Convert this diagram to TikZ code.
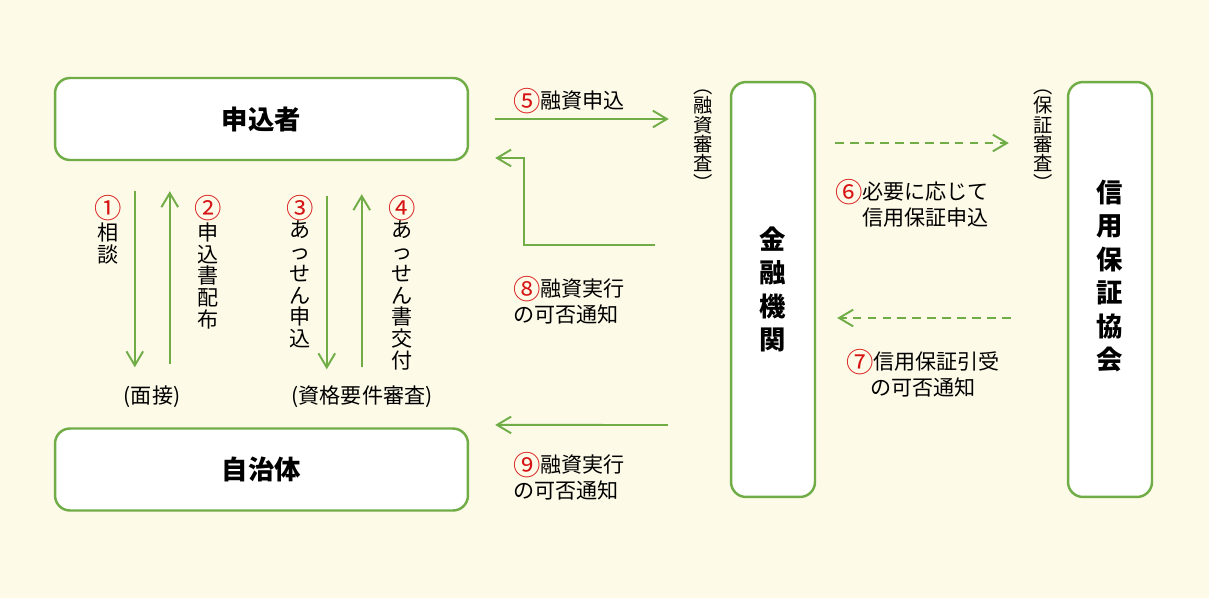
\documentclass[tikz,border=0pt]{standalone}
\usepackage{fontspec}
\setmainfont{Noto Sans CJK JP}
\usepackage{xcolor}
\usepackage{graphicx}
\usepackage{tikz}
\usetikzlibrary{arrows.meta,positioning}

\definecolor{bgcream}{RGB}{253,250,232}
\definecolor{flowgreen}{RGB}{112,173,71}
\definecolor{numred}{RGB}{215,20,20}
\newcommand{\cnum}[1]{\textcolor{numred}{\raisebox{-0.12em}{\scalebox{1.3}{#1}}}}

\begin{document}
\begin{tikzpicture}[
    x=0.02cm, y=-0.02cm,
    box/.style={rectangle, draw=flowgreen, line width=1.4pt, fill=white, rounded corners=0.3cm, minimum width=8.26cm, minimum height=1.64cm, font=\fontsize{15}{19}\selectfont\bfseries},
    vbox/.style={box, minimum width=1.68cm, minimum height=8.3cm, align=center},
    vname/.style={align=center, inner sep=0pt, font=\fontsize{15}{19}\selectfont\bfseries},
    arrow/.style={-{Straight Barb[length=8pt,width=9.5pt]}, draw=flowgreen, line width=1.1pt},
    dasharrow/.style={arrow, dash pattern=on 5pt off 3.5pt},
    lbl/.style={inner sep=0pt, font=\fontsize{12}{14.7}\selectfont},
    vlbl/.style={lbl, align=center, anchor=north, font=\fontsize{12}{12.4}\selectfont},
    plbl/.style={lbl, align=center, font=\fontsize{11}{11}\selectfont}
]
    \fill[bgcream] (0,0) rectangle (1209,598);

    % boxes
    \node[box] (applicant) at (261.5,119) {申込者};
    \node[box] (municipality) at (261.5,469.5) {自治体};
    \node[vbox] (bank) at (773,289.5) {金\\融\\機\\関};
    \node[vbox] (guarantee) at (1110,289.5) {};
    \node[vname] (guaranteename) at (1110,276) {信\\用\\保\\証\\協\\会};

    % applicant <-> municipality
    \draw[arrow, shorten <=0.6cm, shorten >=1.2cm] ([xshift=1.62cm]applicant.south west) -- ([xshift=1.62cm]municipality.north west);
    \draw[arrow, shorten <=1.26cm, shorten >=0.6cm] ([xshift=2.32cm]municipality.north west) -- ([xshift=2.32cm]applicant.south west);
    \draw[arrow, shorten <=0.7cm, shorten >=1.16cm] ([xshift=5.46cm]applicant.south west) -- ([xshift=5.46cm]municipality.north west);
    \draw[arrow, shorten <=1.2cm, shorten >=0.66cm] ([xshift=6.16cm]municipality.north west) -- ([xshift=6.16cm]applicant.south west);

    \node[vlbl] (consult) at (108,195) {\cnum{①}\\相\\談};
    \node[vlbl] (formdist) at (208,195) {\cnum{②}\\申\\込\\書\\配\\布};
    \node[vlbl] (mediatereq) at (300,195) {\cnum{③}\\あ\\っ\\せ\\ん\\申\\込};
    \node[vlbl] (mediatedoc) at (402,195) {\cnum{④}\\あ\\っ\\せ\\ん\\書\\交\\付};
    \node[lbl] (interview) at (152,397) {(面接)};
    \node[lbl] (screening) at (362,397) {(資格要件審査)};

    % applicant / municipality <-> bank
    \draw[arrow, shorten <=0.52cm, shorten >=1.22cm] (applicant.east) -- (applicant.east -| bank.west);
    \draw[arrow] ([shift={(-1.5cm,0.89cm)}]bank.west) -| ([shift={(1.1cm,-0.78cm)}]applicant.east) -- ([shift={(0.52cm,-0.78cm)}]applicant.east);
    \draw[arrow] ([shift={(-1.24cm,-2.71cm)}]bank.west) -- ([shift={(0.52cm,-6.12cm)}]applicant.east);

    \node[lbl] (loanapp) at (569,101) {\cnum{⑤}融資申込};
    \node[lbl, align=left] (loanresult) at (569,300) {\cnum{⑧}融資実行\\の可否通知};
    \node[lbl, align=left] (loanexec) at (569,476) {\cnum{⑨}融資実行\\の可否通知};
    \node[plbl] (loanreview) at (703,140) {︵\\融\\資\\審\\査\\︶};

    % bank <-> guarantee
    \draw[dasharrow] ([shift={(0.38cm,2.93cm)}]bank.east) -- ([shift={(-1.16cm,2.93cm)}]guarantee.west);
    \draw[dasharrow] ([shift={(-1.12cm,-0.57cm)}]guarantee.west) -- ([shift={(0.42cm,-0.57cm)}]bank.east);

    \node[lbl, align=right] (guaranteeapp) at (912,203) {\cnum{⑥}必要に応じて\\信用保証申込};
    \node[lbl, align=center] (guaranteeresult) at (923,373) {\cnum{⑦}信用保証引受\\の可否通知};
    \node[plbl] (guaranteereview) at (1043,140) {︵\\保\\証\\審\\査\\︶};
\end{tikzpicture}
\end{document}
